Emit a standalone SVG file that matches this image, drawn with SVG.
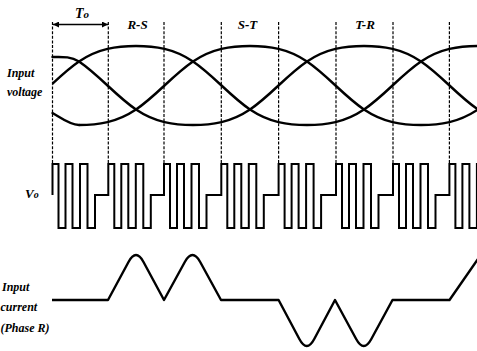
<svg xmlns="http://www.w3.org/2000/svg" xmlns:xlink="http://www.w3.org/1999/xlink" width="477" height="351" viewBox="0 0 477 351">
<defs>
<style>
.lbl{font-family:"Liberation Serif","Times New Roman",serif;font-style:italic;font-weight:bold;fill:#000}
.wave{fill:none;stroke:#000;stroke-width:2.4;stroke-linejoin:round;stroke-linecap:round}
.grid{stroke:#000;stroke-width:1.2;stroke-dasharray:3 1.6;fill:none}
.vo{fill:none;stroke:#000;stroke-width:2;stroke-linejoin:miter}
.cur{fill:none;stroke:#000;stroke-width:2.4;stroke-linejoin:round}
.dim{stroke:#000;stroke-width:1.5;fill:none}
</style>
<marker id="ah" viewBox="0 0 10 10" refX="10" refY="5" markerWidth="6" markerHeight="6" orient="auto-start-reverse" markerUnits="userSpaceOnUse">
<path d="M0,0 L10,5 L0,10 z" fill="#000"/>
</marker>
<path id="wave" d="M-57,48.9 C-47.5,51.11 -38,55.11 -28.5,61.5 C-19,67.89 -9.5,76.63 0,85.5 C9.5,94.37 19,103.11 28.5,109.5 C38,115.89 47.5,119.89 57,122.1 C66.5,124.31 76,125 85.5,125 C95,125 104.5,124.31 114,122.1 C123.5,119.89 133,115.89 142.5,109.5 C152,103.11 161.5,94.37 171,85.5 C180.5,76.63 190,67.89 199.5,61.5 C209,55.11 218.5,51.11 228,48.9 C237.5,46.69 247,46 256.5,46 C266,46 275.5,46.69 285,48.9 C294.5,51.11 304,55.11 313.5,61.5 C323,67.89 332.5,76.63 342,85.5 C351.5,94.37 361,103.11 370.5,109.5 C380,115.89 389.5,119.89 399,122.1 C408.5,124.31 418,125 427.5,125 C437,125 446.5,124.31 456,122.1 C465.5,119.89 475,115.89 484.5,109.5 C494,103.11 503.5,94.37 513,85.5 C522.5,76.63 532,67.89 541.5,61.5 C551,55.11 560.5,51.11 570,48.9 C579.5,46.69 589,46 598.5,46"/>
<clipPath id="cB"><rect x="52.5" y="0" width="430" height="160"/></clipPath>
<clipPath id="cAC"><rect x="79" y="0" width="400" height="160"/></clipPath>
</defs>
<rect width="477" height="351" fill="#fff"/>

<g id="grid">
<path class="grid" d="M52.5,22V164 M108.3,22V164 M164,22V164 M221.3,22V164 M278.6,22V164 M336,22V164 M393,22V164 M449.4,22V164"/>
</g>

<g id="input-voltage">
<g clip-path="url(#cAC)"><use xlink:href="#wave" href="#wave" class="wave" transform="translate(107.5 0)"/></g>
<g clip-path="url(#cB)"><use xlink:href="#wave" href="#wave" class="wave" transform="translate(-120.5 0)"/></g>
<g clip-path="url(#cAC)"><use xlink:href="#wave" href="#wave" class="wave" transform="translate(-6.5 0)"/></g>
<path class="wave" d="M52.5,57 C61.3,57 70,56 79,61.5"/>
<path class="wave" d="M52.5,113 C61,118 70,125 79,125"/>
</g>

<g id="vo">
<path class="vo" d="M52.5,195 V164 H58.5 V228 H65.5 V164 H72.5 V228 H80 V164 H87.5 V228 H95 V195 H108.3 V164 H114.3 V228 H121.3 V164 H128.3 V228 H135.8 V164 H143.3 V228 H150.8 V195 H164 V164 H170 V228 H177 V164 H184 V228 H191.5 V164 H199 V228 H206.5 V195 H221.3 V164 H227.3 V228 H234.3 V164 H241.3 V228 H248.8 V164 H256.3 V228 H263.8 V195 H278.6 V164 H284.6 V228 H291.6 V164 H298.6 V228 H306.1 V164 H313.6 V228 H321.1 V195 H336 V164 H342 V228 H349 V164 H356 V228 H363.5 V164 H371 V228 H378.5 V195 H393 V164 H399 V228 H406 V164 H413 V228 H420.5 V164 H428 V228 H435.5 V195 H449.4 V164 H455.4 V228 H462.4 V164 H469.4 V228 H476.9 V164 H480"/>
</g>

<g id="input-current">
<path class="cur" d="M52,300 H108 L128.5,262 Q136,248 143.5,262 L164,300 L184.8,262 Q192.5,248 200.2,262 L221,300 H278.6 L299.35,339 Q306.8,353 314.25,339 L335,300 L356.16,339 Q363.75,353 371.34,339 L392.5,300 H449.5 L480,256"/>
</g>

<g id="connectors">
<line class="dim" x1="53" y1="24.5" x2="108" y2="24.5" marker-start="url(#ah)" marker-end="url(#ah)"/>
</g>

<g id="labels">
<text class="lbl" x="75" y="18" font-size="14">T<tspan font-size="11">o</tspan></text>
<text class="lbl" x="137.5" y="28.5" font-size="13" text-anchor="middle">R-S</text>
<text class="lbl" x="247.5" y="28.5" font-size="13" text-anchor="middle">S-T</text>
<text class="lbl" x="365" y="28.5" font-size="13" text-anchor="middle">T-R</text>
<text class="lbl" x="7" y="77" font-size="12">Input</text>
<text class="lbl" x="7" y="96" font-size="12">voltage</text>
<text class="lbl" x="25" y="198" font-size="13">V<tspan font-size="10">o</tspan></text>
<text class="lbl" x="2" y="291" font-size="12">Input</text>
<text class="lbl" x="0.5" y="311" font-size="12">current</text>
<text class="lbl" x="0.5" y="332" font-size="12">(Phase R)</text>
</g>
</svg>
